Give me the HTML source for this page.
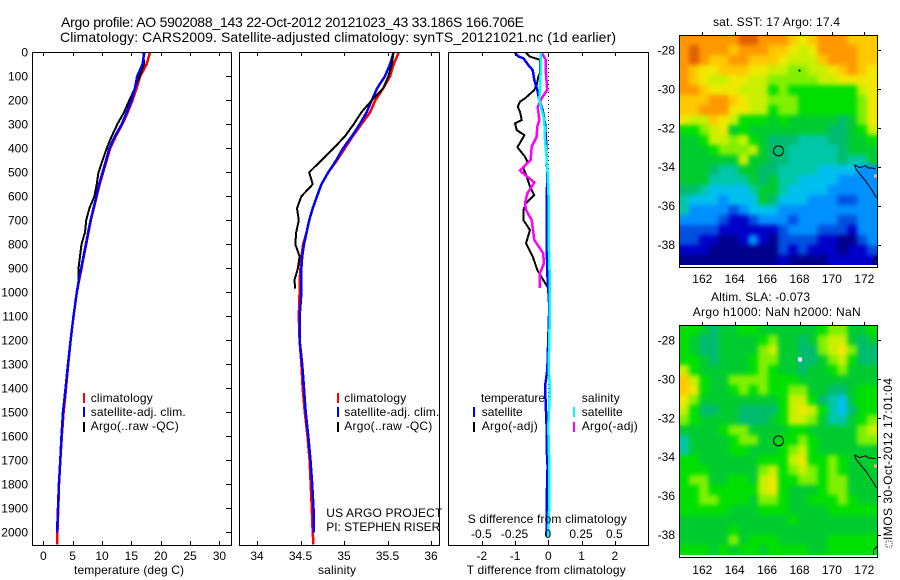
<!DOCTYPE html>
<html>
<head>
<meta charset="utf-8">
<title>Argo profile 5902088_143</title>
<style>
html,body{margin:0;padding:0;background:#fff;}
svg{display:block;}
text{font-family:"Liberation Sans",sans-serif;font-size:12px;fill:#000;}
.title{font-size:14px;}
</style>
</head>
<body>
<svg id="chart" xmlns="http://www.w3.org/2000/svg" width="900" height="580" viewBox="0 0 900 580">
<defs>
<filter id="soften" x="0" y="0" width="100%" height="100%" color-interpolation-filters="sRGB">
<feGaussianBlur in="SourceGraphic" stdDeviation="2.4" result="b"/>
<feMerge><feMergeNode in="SourceGraphic"/><feMergeNode in="b"/></feMerge>
</filter>
</defs>
<rect x="0" y="0" width="900" height="580" fill="#fff"/>
<text class="title" x="61" y="27" textLength="463" lengthAdjust="spacing">Argo profile: AO 5902088_143 22-Oct-2012 20121023_43 33.186S 166.706E</text>
<text class="title" x="60" y="42" textLength="556" lengthAdjust="spacing">Climatology: CARS2009. Satellite-adjusted climatology: synTS_20121021.nc (1d earlier)</text>
<text x="713" y="26" textLength="127" lengthAdjust="spacing">sat. SST: 17 Argo: 17.4</text>
<text x="711" y="301" textLength="99" lengthAdjust="spacing">Altim. SLA: -0.073</text>
<text x="692.7" y="316" textLength="168" lengthAdjust="spacing">Argo h1000: NaN h2000: NaN</text>
<rect x="886" y="541" width="6" height="6" fill="none" stroke="#444" stroke-width="1" stroke-dasharray="1 1" shape-rendering="crispEdges"/>
<text transform="translate(892,540) rotate(-90)" textLength="162" lengthAdjust="spacing">IMOS 30-Oct-2012 17:01:04</text>
<g id="plots"></g>
<g id="maps"></g>
</svg>
<script>
// ---------- depth ----------
const depthTicks = [0,100,200,300,400,500,600,700,800,900,1000,1100,1200,1300,1400,1500,1600,1700,1800,1900,2000];
const climDepth = [0,50,100,150,200,250,300,350,400,450,500,550,600,650,700,750,800,850,900,950,1000,1100,1200,1300,1400,1500,1600,1700,1800,1900,2000,2050];
const argoDepth = [0,50,100,150,200,250,300,350,400,450,500,550,600,650,700,750,800,850,900,950,985];
// ---------- temperature panel ----------
const tempTicks = [0,5,10,15,20,25,30];
const tempClim = [18.2,17.6,16.5,15.9,15.2,14.4,13.45,12.35,11.4,10.8,10.2,9.6,9.1,8.6,8.1,7.7,7.3,6.9,6.5,6.1,5.7,5.15,4.65,4.25,3.87,3.45,3.15,2.9,2.67,2.55,2.4,2.35];
const tempSat = [17.2,16.9,16.0,15.6,15.05,14.2,13.35,12.2,11.25,10.7,10.1,9.5,9.05,8.55,8.05,7.65,7.25,6.85,6.45,6.05,5.7,5.15,4.65,4.2,3.8,3.35,3.1,2.9,2.65,2.5,2.35];
const tempArgo = [17.05,17.15,16.4,15.6,14.65,13.75,12.6,11.65,10.8,10.1,9.4,9.1,8.7,7.85,7.3,7.1,6.5,6.25,6.0,6.0,5.9];
// ---------- salinity panel ----------
const salTicks = [34,34.5,35,35.5,36];
const salClim = [35.63,35.57,35.53,35.45,35.36,35.3,35.2,35.1,35.01,34.92,34.82,34.74,34.69,34.64,34.6,34.57,34.53,34.51,34.5,34.49,34.49,34.48,34.49,34.51,34.525,34.55,34.58,34.605,34.617,34.63,34.64,34.65];
const salSat = [35.57,35.53,35.47,35.38,35.32,35.26,35.18,35.09,34.99,34.91,34.82,34.74,34.69,34.64,34.6,34.57,34.54,34.52,34.51,34.51,34.51,34.49,34.49,34.52,34.54,34.56,34.59,34.615,34.635,34.65,34.655];
const salArgo = [35.57,35.55,35.51,35.45,35.32,35.2,35.11,35.01,34.88,34.74,34.6,34.64,34.51,34.46,34.48,34.45,34.44,34.49,34.47,34.43,34.44];
// ---------- difference panel ----------
const diffTTicks = [-2,-1,0,1,2];
const diffSTicks = [-0.5,-0.25,0,0.25,0.5];
const diffSTickLabels = ['-0.5','-0.25','0','0.25','0.5'];
const tSatDepth = [2,18,25,53,74,115,157,199,240,296,365,435,504,643,782,921,1060,1324,1393,1559,1643,1726,1879,1990,2020];
const tSatDiff = [-1.0,-0.9,-0.75,-0.6,-0.47,-0.42,-0.33,-0.27,-0.17,-0.1,-0.07,-0.05,-0.03,-0.05,-0.05,-0.03,0.03,-0.03,-0.1,-0.05,-0.05,-0.02,-0.05,-0.05,-0.05];
const tArgoDepth = [2,18,29,32,88,102,136,157,192,206,227,247,282,296,324,345,365,396,435,456,483,518,560,595,629,657,699,741,796,851,907,949,983];
const tArgoDiff = [-0.67,-0.55,-0.3,-0.25,-0.25,-0.3,-0.35,-0.42,-0.7,-0.85,-0.92,-0.85,-0.8,-1.0,-0.95,-0.72,-0.8,-0.93,-0.7,-0.63,-0.75,-0.65,-0.55,-0.42,-0.67,-0.75,-0.75,-0.55,-0.67,-0.47,-0.33,-0.15,0];
const sArgoDepth = [2,32,88,157,192,227,282,310,352,393,449,493,511,542,588,629,657,699,782,838,879,921,983];
const sArgoDiff = [-0.05,-0.018,-0.018,-0.008,-0.05,-0.08,-0.068,-0.083,-0.088,-0.125,-0.133,-0.213,-0.175,-0.105,-0.158,-0.175,-0.168,-0.125,-0.105,-0.038,-0.033,-0.063,-0.063];
const sSatDepth = [2,88,199,240,282,365,435,504,574,643,782,921,1060,1324,1393,1462,1559,1726,1879,1990,2020];
const sSatDiff = [-0.058,-0.058,-0.068,-0.05,-0.03,-0.025,-0.013,-0.005,0,0.005,0.003,0.01,0.0125,0.0025,0.0125,0.0075,0,0.0075,0.0075,0,0];
// ---------- maps ----------
const lonTicks = [162,164,166,168,170,172];
const latTicks = [28,30,32,34,36,38];
const colorLevels = ['#00008c','#0000c8','#0050e0','#0090ff','#00c0f0','#00c8a8','#00bc70','#00cc30','#00e000','#80f000','#c8f000','#f0e800','#ffc800','#ff9800','#e06000'];
const sstLevels = [
[13,13,13,13,13,13,14,14,13,13,13,12,11,12,13,13,13,12,12,12],
[13,14,13,13,13,12,13,13,13,12,12,11,10,11,13,13,13,13,12,12],
[13,14,13,12,12,13,13,12,12,12,11,10,10,10,12,13,13,13,12,12],
[13,12,11,11,12,12,12,11,11,10,10,9,9,10,10,11,12,13,12,11],
[13,12,11,10,10,11,11,10,10,9,9,9,9,9,10,10,11,11,11,11],
[13,13,12,11,11,11,10,10,10,8,9,8,8,8,8,8,8,8,10,11],
[12,12,12,13,13,12,11,10,10,9,9,9,8,8,8,8,8,8,9,11],
[12,12,13,13,13,11,11,10,10,8,9,9,8,8,8,8,8,8,9,11],
[11,10,10,12,11,10,8,8,8,7,8,7,7,7,7,7,6,7,9,11],
[8,8,9,10,11,7,8,7,7,7,7,7,7,7,7,6,6,7,8,10],
[7,7,8,10,10,9,10,8,7,6,6,6,5,5,5,6,6,7,7,8],
[7,7,7,8,9,9,9,10,7,6,6,5,5,5,5,5,6,7,7,7],
[7,7,7,7,7,7,10,7,7,6,6,5,5,5,5,5,6,5,5,7],
[7,7,7,6,5,5,7,7,6,6,5,5,5,5,4,4,4,4,3,3],
[7,7,7,5,5,5,5,7,6,7,5,5,4,4,4,4,3,3,3,3],
[6,6,5,4,4,4,4,5,7,7,5,4,4,4,4,3,3,3,3,3],
[5,4,4,4,3,4,4,4,7,6,4,4,4,3,3,3,2,2,3,3],
[5,3,3,3,3,2,3,4,4,4,3,3,3,3,3,3,3,3,3,3],
[3,3,3,3,2,1,1,2,3,3,3,2,3,3,3,3,2,2,3,3],
[2,2,2,2,1,1,1,1,1,1,2,3,3,3,2,2,2,1,3,3],
[2,2,1,1,0,0,1,3,1,0,2,2,2,2,1,1,0,0,2,3],
[1,1,1,0,0,0,0,0,0,0,2,1,2,1,1,1,0,1,1,2],
[0,0,0,0,0,0,0,0,0,0,1,0,0,0,0,1,1,1,1,1]
];
const slaLevels = [
[8,8,7,6,7,7,8,8,7,7,7,7,7,7,8,9,9,7,7,8],
[8,7,6,6,7,7,7,7,8,9,7,7,6,7,9,10,10,7,6,7],
[8,7,6,6,7,7,7,7,9,10,7,7,6,6,9,10,11,9,6,6],
[8,8,7,6,7,7,7,8,9,9,7,7,6,6,7,9,10,8,6,6],
[10,8,7,7,7,7,7,8,9,8,7,7,6,7,7,8,9,7,7,7],
[12,10,8,7,7,9,9,9,9,8,8,8,7,7,7,7,7,7,7,7],
[12,11,8,7,7,8,9,8,9,8,8,9,9,7,7,6,6,7,8,8],
[11,9,7,7,7,7,7,7,7,7,8,10,10,8,6,5,4,7,8,8],
[10,8,6,6,7,7,6,6,6,6,8,10,11,10,8,5,4,6,8,8],
[9,8,7,7,7,7,6,6,6,7,8,10,10,9,7,5,5,7,8,9],
[7,7,7,7,8,9,9,7,7,7,7,8,8,7,7,7,7,7,9,10],
[5,7,7,7,7,8,9,9,7,7,8,8,9,8,7,7,7,7,9,9],
[5,7,7,7,7,8,8,7,7,7,8,9,10,8,7,7,7,7,7,7],
[8,8,7,7,7,7,7,7,8,8,8,10,11,8,8,9,8,7,7,7],
[8,8,8,7,7,7,7,7,9,10,8,9,10,9,8,9,8,7,7,7],
[8,9,9,7,7,8,8,7,10,11,8,8,9,9,8,9,9,7,7,7],
[8,8,9,8,8,8,8,8,10,11,8,7,7,7,8,9,9,7,7,7],
[8,8,9,9,8,8,8,7,9,9,8,7,7,8,8,8,9,8,7,7],
[8,8,8,8,8,7,7,7,8,8,8,7,7,7,7,8,8,8,8,8],
[7,7,7,7,7,7,7,7,7,7,7,8,7,7,7,7,7,7,7,7],
[7,7,7,7,7,8,7,7,7,7,7,7,7,7,7,7,7,7,7,7],
[7,7,7,7,7,9,7,8,8,8,7,7,7,7,7,8,8,8,8,8],
[8,8,8,7,8,7,8,8,7,8,8,8,8,7,7,8,8,8,8,8]
];
const argoLon = [166.706];
const argoLat = [33.186];
const coastLon = [171.4,171.5,172.1,172.5,172.75];
const coastLat = [33.9,34.15,34.75,35.25,35.6];
const coastNorthLon = [171.4,171.7,172.1,172.2,172.7];
const coastNorthLat = [33.9,34.05,33.95,34.05,34.1];
const coastSouthLon = [172.57,172.57,172.82];
const coastSouthLat = [39.14,38.8,38.6];

// ---------- axis functions ----------
const TOP = 52, BOTTOM = 545;
const yDepth = d => 52.3 + d * 0.24;
const xTemp = v => 43.3 + v * 5.87;
const xSal = v => 257 + (v - 34) * 87;
const xDiffT = v => 548.3 + v * 33.25;
const xDiffS = v => 548.3 + v * 133;
const NS = 'http://www.w3.org/2000/svg';
const plots = document.getElementById('plots');
const maps = document.getElementById('maps');

function make(parent, tag, attrs, txt) {
  const el = document.createElementNS(NS, tag);
  for (const k in attrs) el.setAttribute(k, attrs[k]);
  if (txt !== undefined) el.textContent = txt;
  parent.appendChild(el);
  return el;
}
function label(parent, name, x, y, txt, anchor, width) {
  const a = {x: x, y: y, 'text-anchor': anchor || 'start'};
  if (width) { a.textLength = width; a.lengthAdjust = 'spacing'; }
  const el = make(parent, 'text', a, txt);
  
  
  return el;
}
function tick(parent, name, x1, y1, x2, y2) {
  const el = make(parent, 'line', {x1: x1, y1: y1, x2: x2, y2: y2, stroke: '#000', 'stroke-width': 1, 'shape-rendering': 'crispEdges'});
  
  
  return el;
}
function series(parent, name, depths, values, xFn, color, width) {
  const pts = depths.slice(0, values.length).map((d, i) => xFn(values[i]).toFixed(1) + ',' + yDepth(d).toFixed(1)).join(' ');
  const el = make(parent, 'polyline', {points: pts, fill: 'none', stroke: color, 'stroke-width': width || 2, 'stroke-linejoin': 'miter', 'shape-rendering': 'crispEdges'});
  
  
  return el;
}
function box(parent, name, x0, x1) {
  const el = make(parent, 'rect', {x: x0 + 0.5, y: TOP + 0.5, width: x1 - x0, height: BOTTOM - TOP, fill: 'none', stroke: '#000', 'stroke-width': 1, 'shape-rendering': 'crispEdges'});
  
  
  return el;
}
function xAxis(parent, prefix, ticks, xFn, labels, baseline) {
  ticks.forEach((v, i) => {
    const x = Math.round(xFn(v)) + 0.5;
    tick(parent, prefix + '-tick-top', x, TOP, x, TOP + 4);
    tick(parent, prefix + '-tick-bottom', x, BOTTOM - 4, x, BOTTOM);
    label(parent, prefix + '-tick-label', xFn(v), baseline, labels ? labels[i] : String(v), 'middle');
  });
}
function legendBar(parent, name, x, y, color) {
  const el = make(parent, 'rect', {x: x, y: y, width: 2, height: 10, fill: color, 'shape-rendering': 'crispEdges'});
  
  
  return el;
}

// ---------- depth labels ----------
depthTicks.forEach(d => {
  label(plots, 'depth-tick-label', 28, Math.round(yDepth(d)) + 4.5, String(d), 'end');
  const y = Math.round(yDepth(d)) + 0.5;
  tick(plots, 'depth-tick', 226, y, 232, y);
});

// ---------- temperature panel ----------
series(plots, 'temperature-climatology-line', climDepth, tempClim, xTemp, '#ff0000', 2.5);
series(plots, 'temperature-argo-line', argoDepth, tempArgo, xTemp, '#000000');
series(plots, 'temperature-satellite-line', climDepth, tempSat, xTemp, '#0000ff', 2.5);
box(plots, 'temperature-panel-frame', 32, 231);
xAxis(plots, 'temperature', tempTicks, xTemp, null, 560);
label(plots, 'temperature-axis-title', 74, 574, 'temperature (deg C)', 'start', 110);
legendBar(plots, 'legend-swatch-climatology', 83, 393, '#ff0000');
legendBar(plots, 'legend-swatch-satellite', 83, 407, '#0000ff');
legendBar(plots, 'legend-swatch-argo', 83, 422, '#000000');
label(plots, 'legend-label-climatology', 90.7, 402, 'climatology', 'start', 62);
label(plots, 'legend-label-satellite', 90.7, 416, 'satellite-adj. clim.', 'start', 95);
label(plots, 'legend-label-argo', 90.7, 430, 'Argo(..raw -QC)', 'start', 88);

// ---------- salinity panel ----------
series(plots, 'salinity-climatology-line', climDepth, salClim, xSal, '#ff0000', 2.5);
series(plots, 'salinity-satellite-line', climDepth, salSat, xSal, '#0000ff', 2.5);
series(plots, 'salinity-argo-line', argoDepth, salArgo, xSal, '#000000');
box(plots, 'salinity-panel-frame', 239, 439);
xAxis(plots, 'salinity', salTicks, xSal, null, 560);
label(plots, 'salinity-axis-title', 318, 574, 'salinity', 'start', 38);
legendBar(plots, 'legend-swatch-climatology', 337, 393, '#ff0000');
legendBar(plots, 'legend-swatch-satellite', 337, 407, '#0000ff');
legendBar(plots, 'legend-swatch-argo', 337, 422, '#000000');
label(plots, 'legend-label-climatology', 344.3, 402, 'climatology', 'start', 62);
label(plots, 'legend-label-satellite', 344.3, 416, 'satellite-adj. clim.', 'start', 95);
label(plots, 'legend-label-argo', 344.3, 430, 'Argo(..raw -QC)', 'start', 88);
label(plots, 'project-label', 326.3, 517, 'US ARGO PROJECT', 'start', 116);
label(plots, 'pi-label', 326.3, 531, 'PI: STEPHEN RISER', 'start', 114);

// ---------- difference panel ----------
const zeroLine = make(plots, 'line', {x1: 548.5, y1: TOP, x2: 548.5, y2: BOTTOM, stroke: '#000', 'stroke-width': 1, 'stroke-dasharray': '1 3', 'shape-rendering': 'crispEdges'});


series(plots, 'temperature-diff-argo-line', tArgoDepth, tArgoDiff, xDiffT, '#000000');
series(plots, 'temperature-diff-satellite-line', tSatDepth, tSatDiff, xDiffT, '#0000ff', 2.5);
series(plots, 'salinity-diff-argo-line', sArgoDepth, sArgoDiff, xDiffS, '#ff00ff', 2.5);
series(plots, 'salinity-diff-satellite-line', sSatDepth, sSatDiff, xDiffS, '#00ffff', 2.5);
box(plots, 'difference-panel-frame', 448, 648);
xAxis(plots, 'temperature-difference', diffTTicks, xDiffT, null, 560);
diffSTicks.forEach((v, i) => {
  label(plots, 'salinity-difference-tick-label', xDiffS(v) - 0.5, 538, diffSTickLabels[i], 'middle');
});
label(plots, 'temperature-difference-axis-title', 466.7, 574, 'T difference from climatology', 'start', 159);
label(plots, 'salinity-difference-axis-title', 467.7, 523, 'S difference from climatology', 'start', 159);
legendBar(plots, 'legend-swatch-t-satellite', 473, 407, '#0000ff');
legendBar(plots, 'legend-swatch-t-argo', 473, 422, '#000000');
legendBar(plots, 'legend-swatch-s-satellite', 573, 407, '#00ffff');
legendBar(plots, 'legend-swatch-s-argo', 573, 422, '#ff00ff');
label(plots, 'legend-heading-temperature', 481, 402, 'temperature', 'start', 64);
label(plots, 'legend-label-t-satellite', 481.7, 416, 'satellite', 'start', 41);
label(plots, 'legend-label-t-argo', 481.7, 430, 'Argo(-adj)', 'start', 56);
label(plots, 'legend-heading-salinity', 581.7, 402, 'salinity', 'start', 38);
label(plots, 'legend-label-s-satellite', 581.7, 416, 'satellite', 'start', 41);
label(plots, 'legend-label-s-argo', 581.7, 430, 'Argo(-adj)', 'start', 56);

// ---------- maps ----------
function drawMap(prefix, levels, top, lat28Y, tickBaseline, extra) {
  const left = 679, right = 877, cellW = 9.9, cellH = 10;
  const xLon = v => 702.3 + (v - 162) * 16.2;
  const yLat = v => lat28Y + (v - 28) * 19.45;
  const g = make(maps, 'g', {});
  
  
  const cells = make(g, 'g', {filter: 'url(#soften)'});
  
  
  levels.forEach((row, r) => {
    row.forEach((lvl, c) => {
      const cell = make(cells, 'rect', {x: left + c * cellW, y: top + r * cellH, width: cellW + 0.3, height: cellH + 0.3, fill: colorLevels[lvl], 'shape-rendering': 'crispEdges'});
      
      
    });
  });
  const coast1 = make(g, 'polyline', {points: coastLon.map((v, i) => xLon(v) + ',' + yLat(coastLat[i])).join(' '), fill: 'none', stroke: '#000', 'stroke-width': 1, 'shape-rendering': 'crispEdges'});
  
  
  const coast2 = make(g, 'polyline', {points: coastNorthLon.map((v, i) => xLon(v) + ',' + yLat(coastNorthLat[i])).join(' '), fill: 'none', stroke: '#000', 'stroke-width': 1, 'shape-rendering': 'crispEdges'});
  
  
  const coast3 = make(g, 'polyline', {points: coastSouthLon.map((v, i) => xLon(v) + ',' + yLat(coastSouthLat[i])).join(' '), fill: 'none', stroke: '#000', 'stroke-width': 1, 'shape-rendering': 'crispEdges'});
  
  
  const land = make(g, 'rect', {x: xLon(172.6), y: yLat(34.4), width: 3, height: 3, fill: '#ffb080', 'shape-rendering': 'crispEdges'});
  
  
  const isle = make(g, 'rect', {x: xLon(167.95), y: yLat(29), width: 2, height: 2, fill: '#000', 'shape-rendering': 'crispEdges'});
  
  
  const circle = make(g, 'circle', {cx: xLon(argoLon[0]), cy: yLat(argoLat[0]), r: 5, fill: 'none', stroke: '#000', 'stroke-width': 1});
  
  
  const strip = make(g, 'rect', {x: left, y: top + 230, width: right - left, height: 2, fill: '#fff', 'shape-rendering': 'crispEdges'});
  
  
  const frame = make(g, 'rect', {x: left + 0.5, y: top + 0.5, width: right - left, height: 232, fill: 'none', stroke: '#000', 'stroke-width': 1, 'shape-rendering': 'crispEdges'});
  
  
  lonTicks.forEach(v => {
    const x = Math.round(xLon(v)) + 0.5;
    tick(g, prefix + '-lon-tick', x, top - 3, x, top);
    label(g, prefix + '-lon-label', xLon(v), tickBaseline, String(v), 'middle');
  });
  latTicks.forEach(v => {
    const y = Math.round(yLat(v)) + 0.5;
    tick(g, prefix + '-lat-tick', right, y, right + 4, y);
    label(g, prefix + '-lat-label', 675, yLat(v) + 4.5, '-' + v, 'end');
  });
  if (extra) extra(g, xLon, yLat);
}
drawMap('sst', sstLevels, 35, 50, 283);
drawMap('sla', slaLevels, 325, 340, 574, (g, xLon, yLat) => {
  const w = make(g, 'rect', {x: xLon(167.9), y: yLat(28.9), width: 4, height: 4, fill: '#fff', 'shape-rendering': 'crispEdges'});
  
  
});
</script>
</body>
</html>
